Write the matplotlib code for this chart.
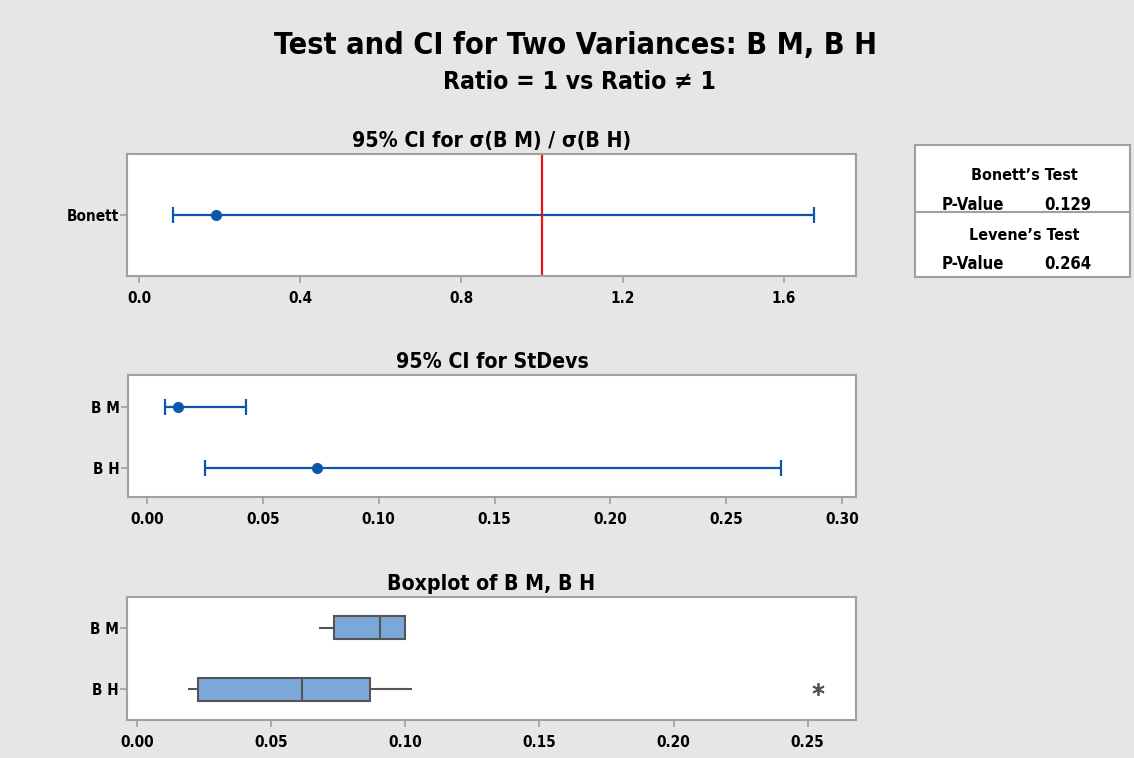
import matplotlib
matplotlib.use("Agg")
import matplotlib.pyplot as plt

# ratio CI (Bonett)
ratio_label = "Bonett"
ratio_est = 0.191
ratio_lo = 0.084
ratio_hi = 1.675
ratio_ticks = [0.0, 0.4, 0.8, 1.2, 1.6]

# stdev CIs
groups = ["B M", "B H"]
sd_est = [0.0134, 0.0734]
sd_lo = [0.0078, 0.025]
sd_hi = [0.0427, 0.2736]
sd_ticks = [0.00, 0.05, 0.10, 0.15, 0.20, 0.25, 0.30]

# boxplot summaries
box_whislo = [0.0683, 0.0194]
box_q1 = [0.0735, 0.0228]
box_med = [0.0907, 0.0616]
box_q3 = [0.1000, 0.0869]
box_whishi = [0.1000, 0.1022]
box_fliers = [[], [0.2537]]
box_ticks = [0.00, 0.05, 0.10, 0.15, 0.20, 0.25]

tests = ["Bonett\u2019s Test", "Levene\u2019s Test"]
pvalues = [0.129, 0.264]

plt.rcParams["font.family"] = ["DejaVu Sans"]
plt.rcParams["font.stretch"] = "condensed"
plt.rcParams["font.weight"] = "bold"

BG = "#e6e6e6"
SPINE = "#a0a0a0"
BLUE = "#0a58ad"

W, H = 1134, 758
fig = plt.figure(figsize=(W / 100, H / 100), dpi=100, facecolor=BG)


def box(l, t, r, b):
    return [l / W, 1 - b / H, (r - l) / W, (b - t) / H]


def style(ax, ticks, labels):
    ax.set_facecolor("white")
    for s in ax.spines.values():
        s.set_color(SPINE)
        s.set_linewidth(1.5)
    ax.set_xticks(ticks)
    ax.set_xticklabels(labels)
    ax.tick_params(axis="both", direction="out", length=5, width=1.2,
                   color=SPINE, labelsize=11)
    ax.tick_params(axis="x", pad=6)
    ax.tick_params(axis="y", pad=1)


def ci(ax, y, lo, est, hi):
    ax.errorbar([est], [y], xerr=[[est - lo], [hi - est]], fmt="o",
                color=BLUE, ms=7, elinewidth=1.6, capsize=6, capthick=1.6)


# top panel: ratio
ax1 = fig.add_axes(box(127, 154, 856, 276))
ci(ax1, 0, ratio_lo, ratio_est, ratio_hi)
ax1.axvline(1.0, color="#e8140f", lw=1.6)
ax1.set_xlim(-0.03, 1.779)
ax1.set_ylim(-1, 1)
ax1.set_yticks([0])
ax1.set_yticklabels([ratio_label])
style(ax1, ratio_ticks, ["0.0", "0.4", "0.8", "1.2", "1.6"])
ax1.set_title("95% CI for \u03c3(B M) / \u03c3(B H)", fontsize=15.2,
              fontweight="bold", pad=5)

# middle panel: stdevs
ax2 = fig.add_axes(box(128, 375, 856, 497))
for i, g in enumerate(groups):
    ci(ax2, 1 - i, sd_lo[i], sd_est[i], sd_hi[i])
ax2.set_xlim(-0.0082, 0.306)
ax2.set_ylim(-0.48, 1.52)
ax2.set_yticks([1, 0])
ax2.set_yticklabels(groups)
style(ax2, sd_ticks, ["%.2f" % t for t in sd_ticks])
ax2.set_title("95% CI for StDevs", fontsize=15.2, fontweight="bold", pad=5)

# bottom panel: boxplot
ax3 = fig.add_axes(box(127, 597, 856, 720))
stats = []
for i, g in enumerate(groups):
    stats.append({"label": g, "whislo": box_whislo[i], "q1": box_q1[i],
                  "med": box_med[i], "q3": box_q3[i],
                  "whishi": box_whishi[i], "fliers": box_fliers[i]})
ax3.bxp(stats, positions=[1, 0], orientation="horizontal", widths=0.37,
        patch_artist=True, showcaps=False,
        boxprops=dict(facecolor="#7ba7d9", edgecolor="#555555", lw=1.5),
        medianprops=dict(color="#555555", lw=1.5),
        whiskerprops=dict(color="#555555", lw=1.5),
        flierprops=dict(marker=(6, 2, 0), markersize=9, markeredgecolor="#555555",
                        markeredgewidth=1.3))
ax3.set_xlim(-0.0037, 0.268)
ax3.set_ylim(-0.5, 1.5)
ax3.set_yticks([1, 0])
ax3.set_yticklabels(groups)
style(ax3, box_ticks, ["%.2f" % t for t in box_ticks])
ax3.set_title("Boxplot of B M, B H", fontsize=15.2, fontweight="bold", pad=5)

# p-value table
axt = fig.add_axes(box(915, 145, 1130, 277))
axt.set_xlim(0, 1)
axt.set_ylim(0, 1)
axt.set_xticks([])
axt.set_yticks([])
axt.set_facecolor("white")
for s in axt.spines.values():
    s.set_color(SPINE)
    s.set_linewidth(1.5)
axt.axhline(1 - (212 - 145) / 132, color=SPINE, lw=1.5)
rows_y = [(175, 205), (236, 264)]
for (ty, py), name, p in zip(rows_y, tests, pvalues):
    axt.text(0.51, 1 - (ty - 145) / 132, name, ha="center", va="center",
             fontsize=11.5)
    axt.text(0.125, 1 - (py - 145) / 132, "P-Value", ha="left", va="center",
             fontsize=12)
    axt.text(0.6, 1 - (py - 145) / 132, "%.3f" % p, ha="left", va="center",
             fontsize=12)

fig.text(575 / W, 1 - 45 / H, "Test and CI for Two Variances: B M, B H",
         ha="center", va="center", fontsize=22, fontweight="bold")
fig.text(579 / W, 1 - 82 / H, "Ratio = 1 vs Ratio \u2260 1",
         ha="center", va="center", fontsize=17.7, fontweight="bold")

fig.savefig("out.png", dpi=100, facecolor=BG)
